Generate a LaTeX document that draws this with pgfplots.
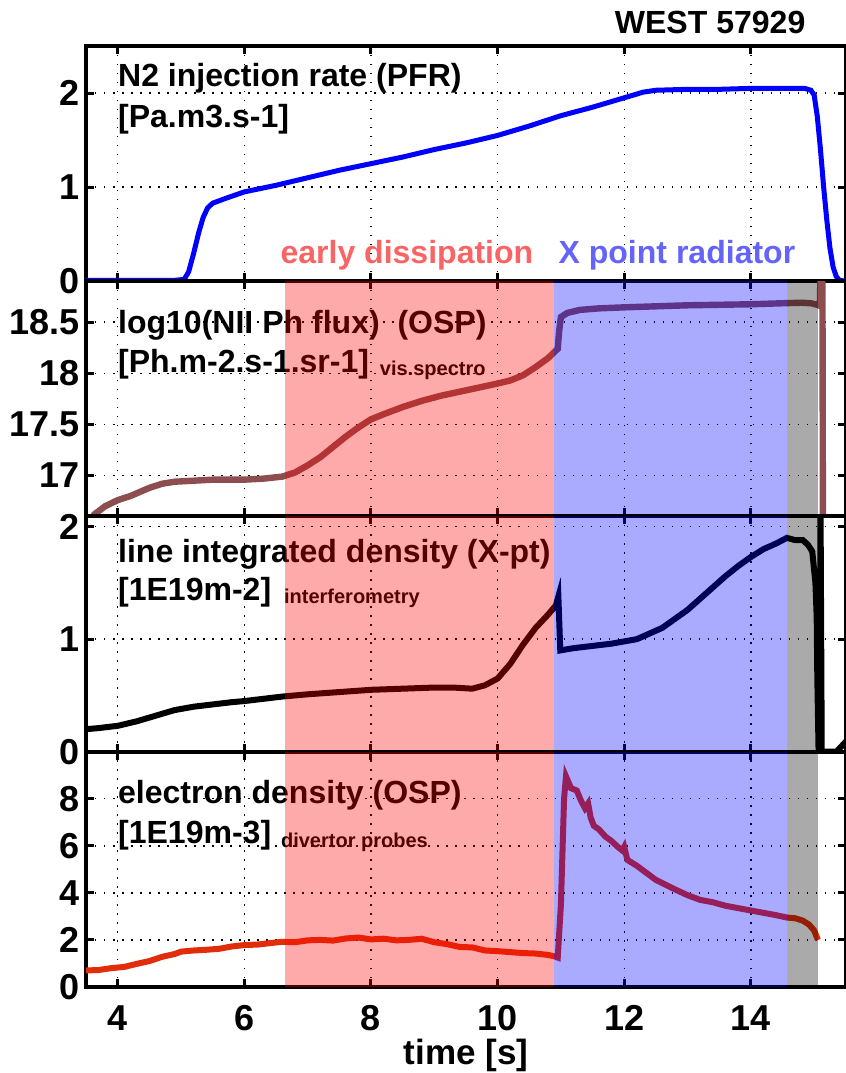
\documentclass[border=0pt]{standalone}
\usepackage{fontspec}
\setmainfont{Liberation Sans}
\usepackage{pgfplots}
\pgfplotsset{compat=1.18}

\definecolor{fluxbrown}{RGB}{140,78,78}
\definecolor{nered}{RGB}{225,45,10}
\definecolor{earlytxt}{RGB}{250,100,100}
\definecolor{xpttxt}{RGB}{100,100,250}

\newcommand\ticfont{\bfseries\fontsize{18}{21}\selectfont}
\newcommand\labfont{\bfseries\fontsize{16}{19}\selectfont}
\newcommand\subfont{\bfseries\fontsize{10}{12}\selectfont}

\tikzset{
  txt/.style={anchor=base west, inner sep=0pt, font=\labfont},
  sub/.style={anchor=base west, inner sep=0pt, font=\subfont},
}
\pgfplotsset{
  panel/.style={
    width=379.5pt, height=117.5pt, scale only axis,
    xmin=3.5, xmax=15.5, xtick={4,6,...,14},
    tick align=inside, xtick pos=both, ytick pos=both,
    major tick length=4pt,
    every tick/.style={black, line width=1.5pt},
    grid=major,
    major grid style={black, line width=0.7pt, dash pattern=on 0.7pt off 3.8pt},
    axis line style={line width=2pt},
    tick label style={font=\ticfont},
    yticklabel style={inner sep=0pt, xshift=-3pt},
    xticklabel style={inner sep=0pt, yshift=-9pt},
  },
}

\begin{document}
\begin{tikzpicture}

% N2 injection rate
\begin{axis}[panel, name=p1, at={(0,0)}, anchor=north west,
  ymin=0, ymax=2.5, ytick={0,1,2}, yticklabels={0,1,2}, xticklabels={}]
\addplot[blue, line width=2.5pt] coordinates {
 (3.5,0.01) (4.0,0.01) (4.5,0.01) (4.9,0.01) (5.05,0.02) (5.12,0.1) (5.2,0.3)
 (5.28,0.52) (5.35,0.68) (5.42,0.78) (5.5,0.83) (5.7,0.88) (6.0,0.95) (6.5,1.02)
 (7.0,1.1) (7.5,1.18) (8.0,1.25) (8.5,1.32) (9.0,1.4) (9.5,1.47) (10.0,1.55)
 (10.5,1.65) (11.0,1.76) (11.5,1.85) (12.0,1.95) (12.3,2.01) (12.5,2.03) (13.0,2.04)
 (13.5,2.04) (14.0,2.05) (14.5,2.05) (14.85,2.05) (14.95,2.03) (15.0,1.98) (15.05,1.75)
 (15.1,1.4) (15.15,1.0) (15.2,0.65) (15.25,0.35) (15.3,0.15) (15.35,0.05) (15.4,0.01) (15.5,0.0)};
\node[txt] at (axis cs:4.0,2.074) {N2 injection rate (PFR)};
\node[txt] at (axis cs:4.0,1.638) {[Pa.m3.s-1]};
\node[txt, text=earlytxt] at (axis cs:6.565,0.19) {early dissipation};
\node[txt, text=xpttxt] at (axis cs:10.957,0.19) {X point radiator};
\end{axis}

% NII photon flux
\begin{axis}[panel, name=p2, at={(p1.south west)}, anchor=north west,
  ymin=16.6, ymax=18.9, ytick={17,17.5,18,18.5}, yticklabels={17,17.5,18,18.5}, xticklabels={}]
\addplot[fluxbrown, line width=3.2pt] coordinates {
 (3.6,16.58) (3.63,16.62) (3.8,16.7) (4.0,16.76) (4.2,16.8) (4.35,16.84) (4.5,16.88)
 (4.7,16.92) (4.9,16.94) (5.2,16.95) (5.5,16.96) (6.0,16.96) (6.3,16.97) (6.6,16.99)
 (6.8,17.03) (7.0,17.1) (7.2,17.18) (7.4,17.28) (7.6,17.38) (7.8,17.47) (8.0,17.55)
 (8.2,17.6) (8.5,17.67) (8.8,17.73) (9.1,17.78) (9.4,17.82) (9.7,17.86) (10.0,17.9)
 (10.2,17.93) (10.4,17.98) (10.6,18.06) (10.8,18.15) (10.95,18.24) (10.97,18.4)
 (11.0,18.55) (11.1,18.59) (11.3,18.62) (11.6,18.635) (12.0,18.645) (12.5,18.655)
 (13.0,18.665) (13.5,18.67) (14.0,18.675) (14.5,18.685) (14.8,18.69) (14.95,18.685)
 (15.05,18.67) (15.09,18.66) (15.11,19.3) (15.13,19.3) (15.14,16.0)};
\node[txt] at (axis cs:4.0,18.39) {log10(NII Ph flux)\ \ (OSP)};
\node[txt] (u2) at (axis cs:4.0,18.01) {[Ph.m-2.s-1.sr-1]};
\node[sub, xshift=5pt, yshift=-1.5pt] at (u2.base east) {vis.spectro};
\addplot[draw=none, fill=red, fill opacity=0.333] coordinates {(6.64,16.6) (10.89,16.6) (10.89,18.9) (6.64,18.9)};
\addplot[draw=none, fill=blue, fill opacity=0.333] coordinates {(10.89,16.6) (14.57,16.6) (14.57,18.9) (10.89,18.9)};
\addplot[draw=none, fill=black, fill opacity=0.333] coordinates {(14.57,16.6) (15.06,16.6) (15.06,18.9) (14.57,18.9)};
\end{axis}

% line integrated density
\begin{axis}[panel, name=p3, at={(p2.south west)}, anchor=north west,
  ymin=0, ymax=2.09, ytick={0,1,2}, yticklabels={0,1,2}, xticklabels={}]
\addplot[black, line width=3pt] coordinates {
 (3.5,0.2) (3.7,0.21) (4.0,0.23) (4.3,0.27) (4.6,0.32) (4.9,0.37) (5.2,0.4) (5.5,0.42)
 (5.8,0.44) (6.0,0.45) (6.3,0.47) (6.6,0.49) (7.0,0.51) (7.5,0.53) (8.0,0.55) (8.5,0.56)
 (9.0,0.57) (9.3,0.57) (9.6,0.56) (9.8,0.59) (10.0,0.65) (10.2,0.78) (10.4,0.95)
 (10.6,1.1) (10.8,1.22) (10.92,1.3) (10.96,1.38) (10.99,0.9) (11.2,0.92) (11.5,0.94)
 (11.8,0.96) (12.0,0.98) (12.2,1.0) (12.4,1.05) (12.6,1.1) (12.8,1.18) (13.0,1.26)
 (13.2,1.36) (13.4,1.46) (13.6,1.56) (13.8,1.65) (14.0,1.73) (14.2,1.8) (14.4,1.85)
 (14.57,1.9) (14.7,1.88) (14.82,1.88) (14.9,1.84) (14.97,1.78) (15.02,1.5) (15.04,1.2)
 (15.05,0.66) (15.07,0.0) (15.09,0.0) (15.1,2.3) (15.12,0.0) (15.35,0.0) (15.42,0.04) (15.5,0.09)};
\node[txt] at (axis cs:4.0,1.68) {line integrated density (X-pt)};
\node[txt] (u3) at (axis cs:4.0,1.34) {[1E19m-2]};
\node[sub, xshift=6pt, yshift=-1.5pt] at (u3.base east) {interferometry};
\addplot[draw=none, fill=red, fill opacity=0.333] coordinates {(6.64,0) (10.89,0) (10.89,2.09) (6.64,2.09)};
\addplot[draw=none, fill=blue, fill opacity=0.333] coordinates {(10.89,0) (14.57,0) (14.57,2.09) (10.89,2.09)};
\addplot[draw=none, fill=black, fill opacity=0.333] coordinates {(14.57,0) (15.06,0) (15.06,2.09) (14.57,2.09)};
\end{axis}

% electron density
\begin{axis}[panel, name=p4, at={(p3.south west)}, anchor=north west,
  ymin=0, ymax=10, ytick={0,2,4,6,8}, yticklabels={0,2,4,6,8},
  xticklabels={4,6,8,10,12,14},
  xlabel={time [s]},
  xlabel style={font=\bfseries\fontsize{17.5}{20}\selectfont, inner sep=0pt,
    at={(axis description cs:0.5,0)}, anchor=north, yshift=-26pt}]
\addplot[nered, line width=3pt] coordinates {
 (3.5,0.7) (3.7,0.72) (3.9,0.8) (4.1,0.85) (4.3,0.98) (4.5,1.1) (4.7,1.28) (4.9,1.4)
 (5.0,1.5) (5.2,1.55) (5.4,1.58) (5.6,1.62) (5.8,1.72) (6.0,1.78) (6.2,1.8) (6.4,1.86)
 (6.6,1.92) (6.8,1.9) (7.0,1.98) (7.2,2.0) (7.4,1.97) (7.6,2.06) (7.8,2.1) (8.0,2.02)
 (8.2,2.05) (8.4,1.98) (8.6,2.0) (8.8,2.05) (9.0,1.9) (9.2,1.82) (9.4,1.7) (9.6,1.68)
 (9.8,1.55) (10.0,1.52) (10.2,1.48) (10.4,1.44) (10.6,1.42) (10.8,1.36) (10.9,1.3)
 (10.95,1.25) (11.0,3.5) (11.05,8.0) (11.08,8.95) (11.12,8.7) (11.16,8.45) (11.25,8.35)
 (11.32,7.9) (11.38,7.6) (11.43,7.8) (11.47,7.2) (11.52,6.85) (11.6,6.7) (11.7,6.4)
 (11.8,6.2) (11.9,5.95) (11.97,5.8) (12.0,5.95) (12.05,5.4) (12.2,5.15) (12.35,4.85)
 (12.5,4.55) (12.65,4.35) (12.8,4.15) (13.0,3.9) (13.2,3.7) (13.4,3.6) (13.6,3.45)
 (13.8,3.35) (14.0,3.25) (14.2,3.15) (14.4,3.05) (14.57,2.95) (14.7,2.92) (14.82,2.82)
 (14.92,2.65) (15.0,2.4) (15.06,2.0)};
\node[txt] at (axis cs:4.0,7.78) {electron density (OSP)};
\node[txt] (u4) at (axis cs:4.0,6.09) {[1E19m-3]};
\node[sub, xshift=4.5pt, yshift=-2pt] at (u4.base east) {divertor probes};
\addplot[draw=none, fill=red, fill opacity=0.333] coordinates {(6.64,0) (10.89,0) (10.89,10) (6.64,10)};
\addplot[draw=none, fill=blue, fill opacity=0.333] coordinates {(10.89,0) (14.57,0) (14.57,10) (10.89,10)};
\addplot[draw=none, fill=black, fill opacity=0.333] coordinates {(14.57,0) (15.06,0) (15.06,10) (14.57,10)};
\end{axis}

\node[anchor=base east, inner sep=0pt, font=\bfseries\fontsize{16}{19}\selectfont,
  xshift=359.5pt, yshift=6.5pt] at (p1.north west) {WEST 57929};

\pgfresetboundingbox
\path ([shift={(-43pt,23pt)}]p1.north west) rectangle ([shift={(0pt,-43pt)}]p4.south east);
\end{tikzpicture}
\end{document}
